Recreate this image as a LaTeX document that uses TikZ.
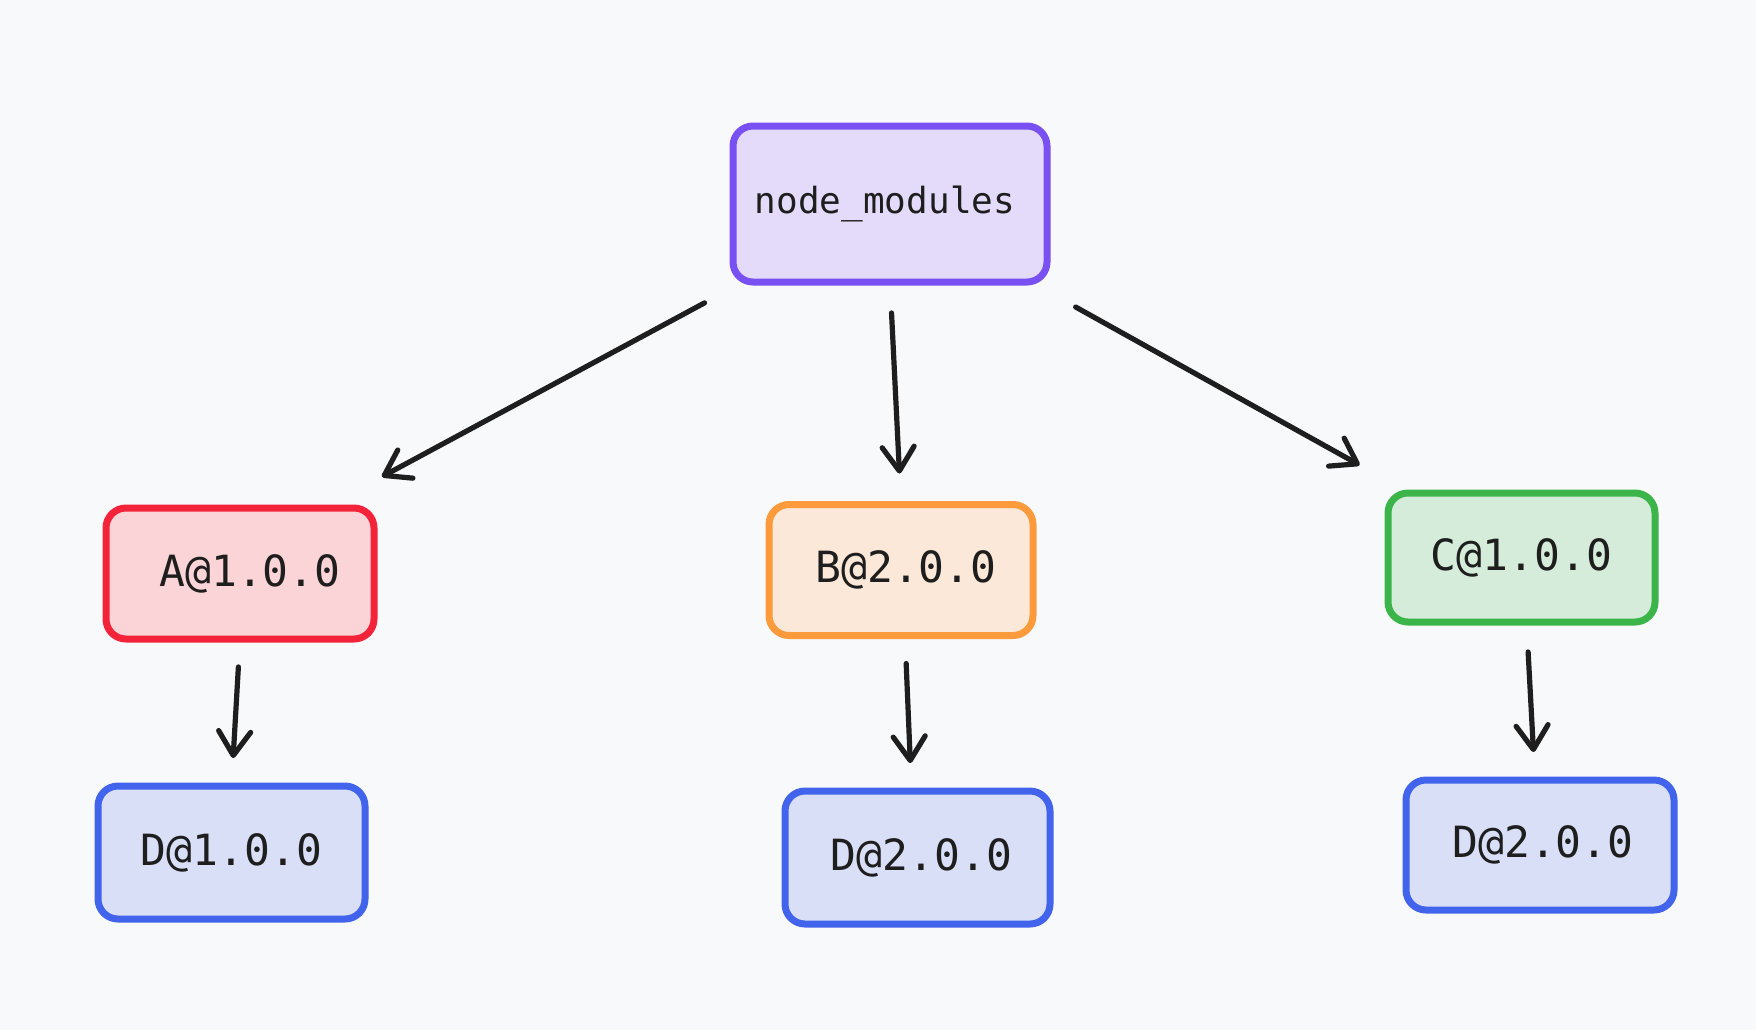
\documentclass[tikz,border=0pt]{standalone}
\usepackage{fontspec}
\setmonofont{DejaVu Sans Mono}
\usetikzlibrary{arrows.meta}

\definecolor{bg}{HTML}{F8F9FB}
\definecolor{ink}{HTML}{1E1E1E}
\definecolor{violetline}{HTML}{7950F2}
\definecolor{violetfill}{HTML}{E4DAF9}
\definecolor{redline}{HTML}{F3243A}
\definecolor{redfill}{HTML}{FAD4D6}
\definecolor{orangeline}{HTML}{FD9A3B}
\definecolor{orangefill}{HTML}{FCE8D8}
\definecolor{greenline}{HTML}{3BB54A}
\definecolor{greenfill}{HTML}{D5ECDB}
\definecolor{blueline}{HTML}{4263EB}
\definecolor{bluefill}{HTML}{D9DFF6}

\begin{document}
\begin{tikzpicture}[x=0.5pt,y=-0.5pt,
  box/.style={draw, line width=3.5pt, rounded corners=10pt, outer sep=0pt,
    inner sep=0pt, text=ink, font=\ttfamily\fontsize{21.5}{24}\selectfont},
  rootbox/.style={box, font=\ttfamily\fontsize{18}{22}\selectfont},
  arr/.style={draw=ink, line width=2.6pt, line cap=round,
    -{Straight Barb[length=12pt,width=16pt,round]}}]

  % canvas
  \fill[bg] (0,0) rectangle (1756,1030);
  \useasboundingbox (0,0) rectangle (1756,1030);

  % package boxes
  \node[rootbox, draw=violetline, fill=violetfill,
        minimum width=157pt, minimum height=78pt]
        (nm) at (890,204) {node\_modules\hspace*{5pt}};

  \node[box, draw=redline, fill=redfill,
        minimum width=134pt, minimum height=65.5pt]
        (a) at (240,573.5) {\hspace*{10pt}A@1.0.0};
  \node[box, draw=orangeline, fill=orangefill,
        minimum width=132pt, minimum height=65.5pt]
        (b) at (901,570) {\hspace*{5pt}B@2.0.0};
  \node[box, draw=greenline, fill=greenfill,
        minimum width=133.5pt, minimum height=64.5pt]
        (c) at (1521.5,557.5) {C@1.0.0};

  \node[box, draw=blueline, fill=bluefill,
        minimum width=133.5pt, minimum height=66.5pt]
        (d1) at (231.5,852.5) {D@1.0.0};
  \node[box, draw=blueline, fill=bluefill,
        minimum width=132.5pt, minimum height=66.5pt]
        (d2) at (917.5,857.5) {\hspace*{4pt}D@2.0.0};
  \node[box, draw=blueline, fill=bluefill,
        minimum width=134pt, minimum height=65pt]
        (d3) at (1540,845) {\hspace*{3pt}D@2.0.0};

  % dependency arrows
  \draw[arr, shorten <=22pt, shorten >=33pt] (nm.208.1) -- (a.38.6);
  \draw[arr, shorten <=15.5pt, shorten >=15.5pt] (nm.south) -- (b.north);
  \draw[arr, shorten <=25.7pt, shorten >=28.7pt] (nm.331) -- (c.150.4);

  \draw[arr, shorten <=14pt, shorten >=14pt] (a.south) -- (d1.north);
  \draw[arr, shorten <=14pt, shorten >=14pt]
    ([xshift=2pt]b.south) -- ([xshift=-3pt]d2.north);
  \draw[arr, shorten <=15pt, shorten >=14pt]
    ([xshift=2.5pt]c.south) -- ([xshift=-2.5pt]d3.north);
\end{tikzpicture}
\end{document}
